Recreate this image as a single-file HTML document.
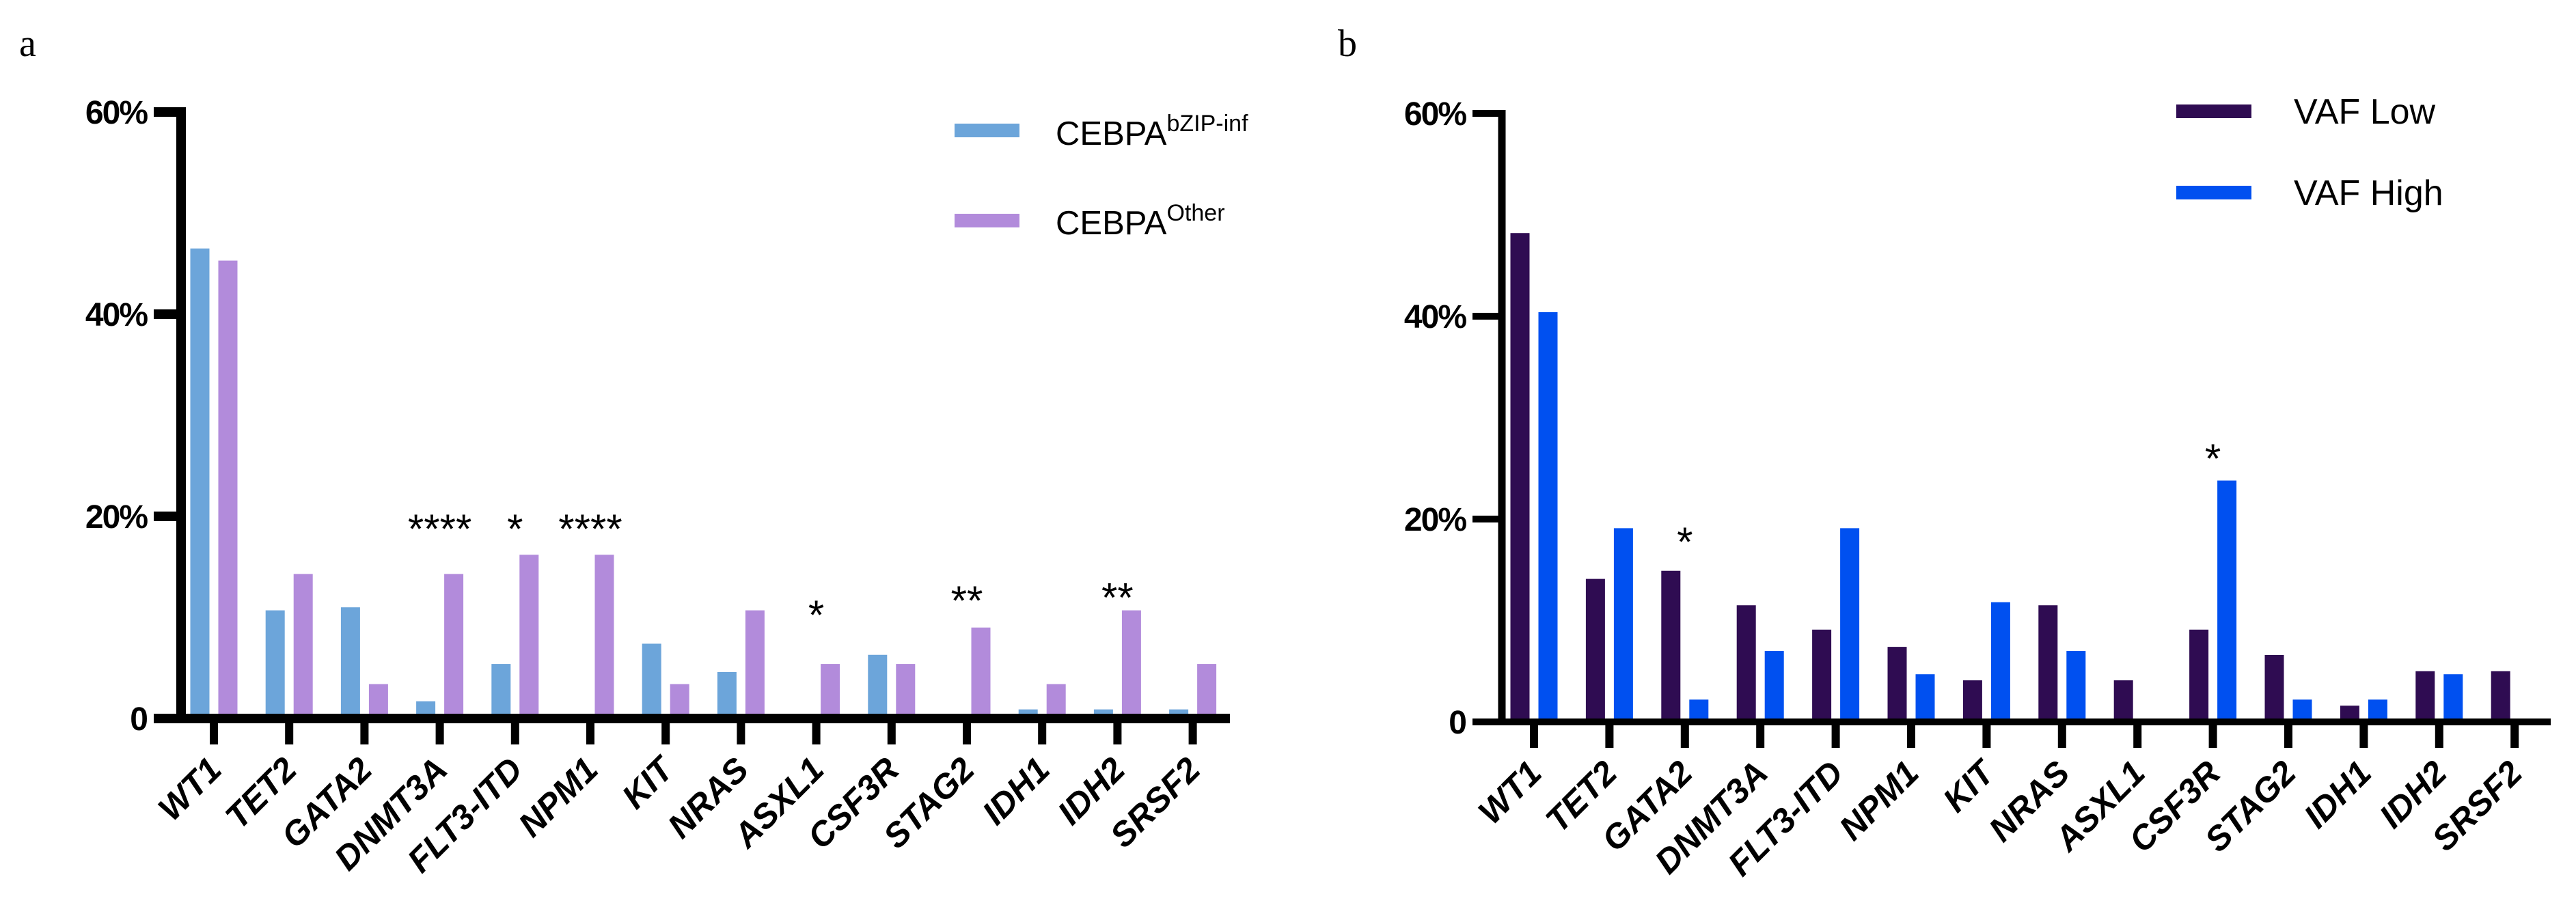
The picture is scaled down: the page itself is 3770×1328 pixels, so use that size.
<!DOCTYPE html>
<html><head><meta charset="utf-8"><style>
html,body{margin:0;padding:0;background:#fff;}
svg{display:block;}
text{font-family:"Liberation Sans",sans-serif;}
</style></head><body>
<svg id="fig" width="3770" height="1328" viewBox="0 0 3770 1328" xmlns="http://www.w3.org/2000/svg">
<rect width="3770" height="1328" fill="#fff"/>
<text x="28" y="82" style="font-family:'Liberation Serif',serif" font-size="56">a</text>
<text x="1958" y="82" style="font-family:'Liberation Serif',serif" font-size="56">b</text>
<g id="pa"></g>
<g id="pb"></g>
<g>
<rect x="1397" y="181" width="95" height="20" fill="#6ca5da"/>
<text x="1545" y="212" font-size="49">CEBPA<tspan font-size="34" dy="-20">bZIP-inf</tspan></text>
<rect x="1397" y="313" width="95" height="20" fill="#b28bdb"/>
<text x="1545" y="343" font-size="49">CEBPA<tspan font-size="34" dy="-20">Other</tspan></text>
</g>
<g>
<rect x="3185" y="153" width="110" height="20" fill="#2f0c52"/>
<text x="3357" y="181" font-size="52">VAF Low</text>
<rect x="3185" y="272" width="110" height="20" fill="#0050f0"/>
<text x="3357" y="300" font-size="52">VAF High</text>
</g>
</svg>
<script>
const categories = ["WT1","TET2","GATA2","DNMT3A","FLT3-ITD","NPM1","KIT","NRAS","ASXL1","CSF3R","STAG2","IDH1","IDH2","SRSF2"];
const yTicks = [0,20,40,60];
const yTickLabels = ["0","20%","40%","60%"];
const bzipValues = [46.5,10.7,11.0,1.7,5.4,0,7.4,4.6,0,6.3,0,0.9,0.9,0.9];
const otherValues = [45.3,14.3,3.4,14.3,16.2,16.2,3.4,10.7,5.4,5.4,9.0,3.4,10.7,5.4];
const vafLowValues = [48.2,14.1,14.9,11.5,9.1,7.4,4.1,11.5,4.1,9.1,6.6,1.6,5.0,5.0];
const vafHighValues = [40.4,19.1,2.2,7.0,19.1,4.7,11.8,7.0,0,23.8,2.2,2.2,4.7,0];
const sigA = ["","","","****","*","****","","","*","","**","","**",""];
const sigAValue = [0,0,0,19.8,19.8,19.8,0,0,11.3,0,12.7,0,13.0,0];
const sigB = ["","","*","","","","","","","*","","","",""];
const sigBValue = [0,0,18.8,0,0,0,0,0,0,27.0,0,0,0,0];

const NS="http://www.w3.org/2000/svg";
function mk(tag, attrs, parent){const e=document.createElementNS(NS,tag);for(const k in attrs)e.setAttribute(k,attrs[k]);parent.appendChild(e);return e;}

function drawPanel(g, cfg, s1, s2, c1, c2, sig, sigVal, nm){
  const yS = v => cfg.y0 - (v/60)*(cfg.y0-cfg.y60);
  const xS = i => cfg.x0 + i*cfg.step;
  categories.forEach((c,i)=>{
    [[s1,c1,-1,'a'],[s2,c2,1,'b']].forEach(([arr,col,side,sfx])=>{
      const v=arr[i]; if(v<=0) return;
      const cx=xS(i)+side*cfg.off;
      const r=mk('rect',{x:cx-cfg.bw/2,y:yS(v),width:cfg.bw,height:cfg.y0-yS(v),fill:col},g);
      
      
    });
    if(sig[i]){
      const t=mk('text',{x:xS(i),y:yS(sigVal[i])+36,'font-size':60,'text-anchor':'middle'},g);
      t.textContent=sig[i];
      
      
    }
  });
  const ya=mk('rect',{x:cfg.ax-cfg.aw/2,y:cfg.y60-cfg.tw/2,width:cfg.aw,height:cfg.y0-cfg.y60+cfg.tw/2,fill:'#000'},g);
  
  
  const xa=mk('rect',{x:cfg.xl,y:cfg.y0-cfg.tw/2,width:cfg.xr-cfg.xl,height:cfg.tw,fill:'#000'},g);
  
  
  yTicks.forEach((v,k)=>{
    const y=yS(v);
    if(v>0){
      const tk=mk('rect',{x:cfg.xl,y:y-cfg.tw/2,width:cfg.ax+cfg.aw/2-cfg.xl,height:cfg.tw,fill:'#000'},g);
      
      
    }
    const t=mk('text',{x:cfg.xl-10,y:y+17,'font-size':48,'font-weight':'bold','text-anchor':'end','letter-spacing':'-2'},g);
    t.textContent=yTickLabels[k];
    
    
  });
  categories.forEach((c,i)=>{
    const x=xS(i);
    const tk=mk('rect',{x:x-6,y:cfg.y0,width:12,height:38,fill:'#000'},g);
    
    
    const t=mk('text',{x:0,y:0,'font-size':50,'font-weight':'bold','font-style':'italic','text-anchor':'end',transform:`translate(${x+14},${cfg.y0+78}) rotate(-45)`},g);
    t.textContent=c;
    
    
  });
}
drawPanel(document.getElementById('pa'),
  {x0:313,step:110.2,off:20.5,bw:28,y0:1052,y60:164,ax:265,aw:14,tw:14,xl:225,xr:1800},
  bzipValues,otherValues,'#6ca5da','#b28bdb',sigA,sigAValue,'a');
drawPanel(document.getElementById('pb'),
  {x0:2245,step:110.4,off:20.5,bw:28,y0:1057,y60:166,ax:2198,aw:11,tw:10,xl:2155,xr:3733},
  vafLowValues,vafHighValues,'#2f0c52','#0050f0',sigB,sigBValue,'b');
</script>
</body></html>
